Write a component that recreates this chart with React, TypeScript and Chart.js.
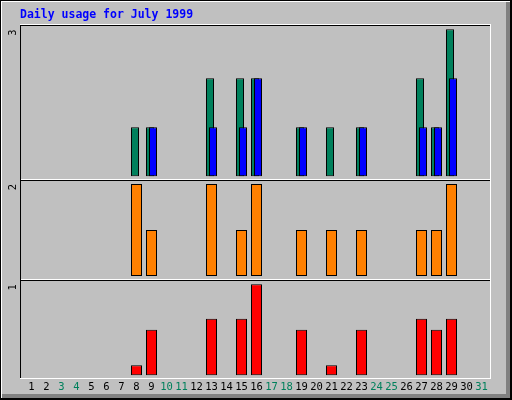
import React, { useEffect, useRef } from "react";
import { Chart, registerables } from "chart.js";

Chart.register(...registerables);

const TITLE = "Daily usage for July 1999";
const days = [1, 2, 3, 4, 5, 6, 7, 8, 9, 10, 11, 12, 13, 14, 15, 16, 17, 18, 19, 20, 21, 22, 23, 24, 25, 26, 27, 28, 29, 30, 31];
const weekendDays = [3, 4, 10, 11, 17, 18, 24, 25, 31];
const hits = [0, 0, 0, 0, 0, 0, 0, 1, 1, 0, 0, 0, 2, 0, 2, 2, 0, 0, 1, 0, 1, 0, 1, 0, 0, 0, 2, 1, 3, 0, 0];
const files = [0, 0, 0, 0, 0, 0, 0, 0, 1, 0, 0, 0, 1, 0, 1, 2, 0, 0, 1, 0, 0, 0, 1, 0, 0, 0, 1, 1, 2, 0, 0];
const visits = [0, 0, 0, 0, 0, 0, 0, 2, 1, 0, 0, 0, 2, 0, 1, 2, 0, 0, 1, 0, 1, 0, 1, 0, 0, 0, 1, 1, 2, 0, 0];
const kbytes = [0, 0, 0, 0, 0, 0, 0, 0.11, 0.5, 0, 0, 0, 0.62, 0, 0.62, 1, 0, 0, 0.5, 0, 0.11, 0, 0.5, 0, 0, 0, 0.62, 0.5, 0.62, 0, 0];

const MONO = "'DejaVu Sans Mono', 'Liberation Mono', monospace";
const C_HITS = "#00805c";
const C_FILES = "#0000ff";
const C_VISITS = "#ff8000";
const C_KB = "#ff0000";
const C_BG = "#c0c0c0";

const pts = (vals: number[]) => days.map((d, i) => ({ x: d, y: vals[i] > 0 ? vals[i] : null }));

const framePlugin = {
  id: "frame",
  beforeDraw(chart: any) {
    const { ctx, width, height, chartArea: a } = chart;
    ctx.save();
    ctx.fillStyle = C_BG;
    ctx.fillRect(0, 0, width, height);
    // outer bevel
    ctx.fillStyle = "#808080";
    ctx.fillRect(width - 6, 2, 4, height - 4);
    ctx.fillRect(2, height - 6, width - 4, 4);
    ctx.fillStyle = "#ffffff";
    ctx.fillRect(1, 1, width - 3, 1);
    ctx.fillRect(1, 1, 1, height - 3);
    ctx.fillStyle = "#000000";
    ctx.fillRect(0, 0, width, 1);
    ctx.fillRect(0, 0, 1, height);
    ctx.fillRect(width - 2, 0, 2, height);
    ctx.fillRect(0, height - 2, width, 2);
    // plot frame
    const L = Math.round(a.left);
    const R = Math.round(a.right);
    const T = Math.round(a.top);
    const B = Math.round(a.bottom);
    const tops = [T, Math.round(chart.scales.yVisits.top), Math.round(chart.scales.yKb.top)];
    for (const t of tops) {
      ctx.fillStyle = "#ffffff";
      ctx.fillRect(L, t - 1, R - L + 1, 1);
      ctx.fillStyle = "#000000";
      ctx.fillRect(L, t, R - L, 1);
    }
    ctx.fillStyle = "#000000";
    ctx.fillRect(L, T, 1, B - T);
    ctx.fillStyle = "#ffffff";
    ctx.fillRect(R, T - 1, 1, B - T + 2);
    ctx.fillRect(L, B, R - L + 1, 1);
    ctx.restore();
  },
};

const barCommon = {
  grouped: false,
  borderColor: "#000000",
  borderWidth: 1,
  borderSkipped: false as const,
  inflateAmount: 0,
};

const hiddenX = (min: number, max: number) => ({
  type: "linear" as const,
  position: "bottom" as const,
  offset: false,
  min,
  max,
  grid: { display: false, drawTicks: false },
  border: { display: false },
  ticks: { display: false },
  afterFit: (s: any) => {
    s.height = 0;
  },
});

const yAxis = (weight: number, min: number, max: number, vals: number[]) => ({
  type: "linear" as const,
  position: "left" as const,
  stack: "panels",
  stackWeight: weight,
  offset: false,
  min,
  max,
  grid: { display: false, drawTicks: false },
  border: { display: false },
  afterFit: (s: any) => {
    s.width = 20;
  },
  afterBuildTicks: (s: any) => {
    s.ticks = [{ value: Math.max(...vals) }];
  },
  ticks: {
    minRotation: 90,
    maxRotation: 90,
    padding: 6.5,
    color: "#000000",
    font: { family: MONO, size: 10.5 },
    callback: (v: any) => String(v),
  },
});

export default function App() {
  const ref = useRef<HTMLCanvasElement | null>(null);
  useEffect(() => {
    if (!ref.current) return;
    const chart = new Chart(ref.current, {
      type: "bar",
      data: {
        datasets: [
          { ...barCommon, label: "Files", data: pts(files), backgroundColor: C_FILES, xAxisID: "xFiles", yAxisID: "yHits", barThickness: 8 },
          { ...barCommon, label: "Hits", data: pts(hits), backgroundColor: C_HITS, xAxisID: "xHits", yAxisID: "yHits", barThickness: 8 },
          { ...barCommon, label: "Visits", data: pts(visits), backgroundColor: C_VISITS, xAxisID: "x", yAxisID: "yVisits", barThickness: 11 },
          { ...barCommon, label: "KBytes", data: pts(kbytes), backgroundColor: C_KB, xAxisID: "x", yAxisID: "yKb", barThickness: 11 },
        ] as any,
      },
      options: {
        responsive: false,
        animation: false,
        devicePixelRatio: 1,
        layout: { padding: { left: 0, right: 22, top: 0, bottom: 6 } },
        plugins: {
          legend: { display: false },
          tooltip: { enabled: false },
          title: {
            display: true,
            fullSize: false,
            text: TITLE,
            align: "start",
            color: "#0000ff",
            font: { family: MONO, size: 11.5, weight: "bold", lineHeight: "14px" },
            padding: { top: 8, bottom: 3 },
          },
        },
        scales: {
          x: {
            type: "linear",
            position: "bottom",
            offset: false,
            min: 0.2333,
            max: 31.5667,
            grid: { display: false, drawTicks: false },
            border: { display: false },
            afterBuildTicks: (s: any) => {
              s.ticks = days.map((d) => ({ value: d }));
            },
            afterFit: (s: any) => {
              s.height = 16;
            },
            ticks: {
              autoSkip: false,
              minRotation: 0,
              maxRotation: 0,
              padding: 3,
              font: { family: MONO, size: 10.5 },
              color: (c: any) => (weekendDays.includes(c.tick && c.tick.value) ? C_HITS : "#000000"),
              callback: (v: any) => String(v),
            },
          },
          xHits: hiddenX(0.3333, 31.6667),
          xFiles: hiddenX(0.1333, 31.4667),
          yKb: yAxis(98, -0.03, 1.047, kbytes),
          yVisits: yAxis(100, -0.087, 2.087, visits),
          yHits: yAxis(155, -0.0755, 3.088, hits),
        } as any,
      },
      plugins: [framePlugin],
    });
    return () => chart.destroy();
  }, []);
  return (
    <div style={{ position: "fixed", left: 0, top: 0, width: 512, height: 400 }}>
      <canvas ref={ref} width={512} height={400} />
    </div>
  );
}
